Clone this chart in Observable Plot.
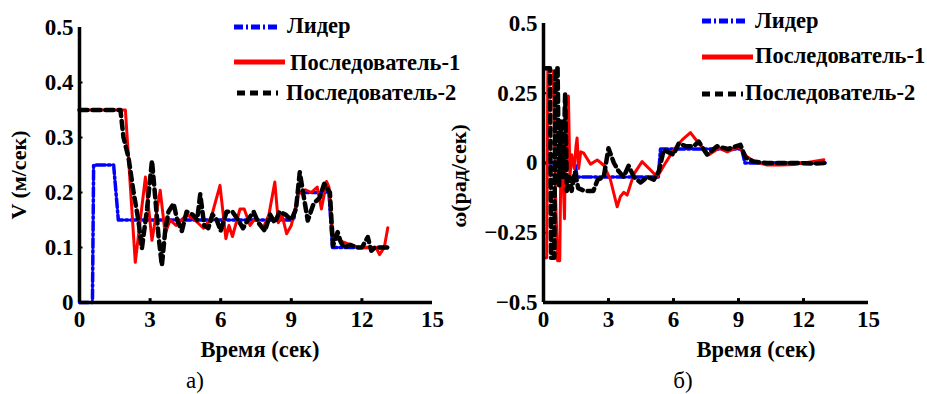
<!DOCTYPE html>
<html><head><meta charset="utf-8">
<script src="https://cdn.jsdelivr.net/npm/d3@7"></script>
<script src="https://cdn.jsdelivr.net/npm/@observablehq/plot@0.6"></script>
<style>
body{margin:0;background:#fff;}
#root{position:relative;width:927px;height:394px;overflow:hidden;font-family:'Liberation Serif',serif;}
#root svg, #root svg text{font-family:'Liberation Serif',serif !important;}
.panel{position:absolute;top:0;}
.panel svg{overflow:visible;}
.cap{position:absolute;top:370px;font-size:23px;line-height:22px;color:#000;font-family:'Liberation Serif',serif;transform:translateX(-50%);}
.legend{position:absolute;left:0;top:0;overflow:visible;}
</style></head>
<body><div id="root"></div>
<script>
// ---- data ----
const seriesNames = ["Лидер", "Последователь-1", "Последователь-2"];
const xTicks = [0, 3, 6, 9, 12, 15];
const vTicks = [0, 0.1, 0.2, 0.3, 0.4, 0.5];
const wTicks = [-0.5, -0.25, 0, 0.25, 0.5];

// panel a) linear speed V (м/сек)
const vLeaderT = [0, 0.55, 0.6, 1.45, 1.65, 9.1, 9.3, 10.6, 10.75, 13.1];
const vLeaderV = [0, 0, 0.25, 0.25, 0.15, 0.15, 0.2, 0.2, 0.1, 0.1];
const vF1T = [0, 1.95, 2.37, 2.8, 3.08, 3.43, 3.64, 3.85, 4.1, 4.56, 4.9, 5.27, 5.6, 5.97, 6.22, 6.35, 6.5, 6.82, 7.0, 7.25, 7.5, 7.8, 8.05, 8.3, 8.45, 8.6, 8.8, 9.0, 9.3, 9.6, 9.85, 10.1, 10.28, 10.5, 10.6, 10.77, 10.95, 11.2, 11.5, 11.9, 12.3, 12.6, 12.75, 12.95, 13.1];
const vF1V = [0.35, 0.35, 0.073, 0.228, 0.113, 0.204, 0.125, 0.15, 0.14, 0.16, 0.15, 0.135, 0.155, 0.213, 0.116, 0.14, 0.12, 0.17, 0.17, 0.14, 0.155, 0.135, 0.16, 0.219, 0.145, 0.16, 0.125, 0.14, 0.197, 0.205, 0.2, 0.21, 0.17, 0.22, 0.21, 0.12, 0.115, 0.11, 0.105, 0.1, 0.1, 0.1, 0.087, 0.1, 0.136];
const vF2T = [0, 1.74, 1.87, 2.08, 2.3, 2.5, 2.65, 2.87, 3.08, 3.2, 3.36, 3.5, 3.64, 3.78, 4.0, 4.15, 4.35, 4.55, 4.8, 5.0, 5.13, 5.3, 5.47, 5.65, 5.83, 6.0, 6.25, 6.5, 6.74, 6.95, 7.15, 7.4, 7.6, 7.88, 8.1, 8.3, 8.5, 8.75, 9.0, 9.2, 9.36, 9.5, 9.7, 9.95, 10.2, 10.4, 10.64, 10.77, 10.97, 11.1, 11.25, 11.5, 11.8, 12.0, 12.25, 12.4, 12.55, 12.75, 13.1];
const vF2V = [0.35, 0.35, 0.3, 0.264, 0.2, 0.15, 0.098, 0.17, 0.258, 0.2, 0.12, 0.067, 0.13, 0.165, 0.18, 0.15, 0.13, 0.165, 0.16, 0.15, 0.197, 0.14, 0.135, 0.16, 0.15, 0.13, 0.165, 0.165, 0.15, 0.135, 0.15, 0.165, 0.145, 0.13, 0.16, 0.145, 0.165, 0.16, 0.15, 0.17, 0.237, 0.2, 0.149, 0.18, 0.19, 0.216, 0.2, 0.103, 0.128, 0.11, 0.1, 0.105, 0.1, 0.1, 0.119, 0.094, 0.1, 0.1, 0.1];

// panel б) angular speed ω (рад/сек)
const wLeaderT = [0, 1.45, 1.55, 5.3, 5.4, 9.15, 9.3, 13];
const wLeaderW = [0, 0, -0.05, -0.05, 0.05, 0.05, 0, 0];
const wF1T = [0, 0.15, 0.2, 0.45, 0.55, 0.65, 0.75, 0.82, 0.9, 0.97, 1.02, 1.08, 1.15, 1.22, 1.3, 1.42, 1.5, 1.55, 1.62, 1.72, 1.86, 2.17, 2.48, 2.78, 3.09, 3.4, 3.55, 3.71, 3.86, 4.17, 4.55, 4.94, 5.25, 5.55, 6.01, 6.4, 6.78, 7.09, 7.63, 8.09, 8.48, 9.01, 9.4, 9.78, 10.32, 10.94, 11.55, 12.32, 12.94];
const wF1W = [-0.34, -0.34, 0.33, 0.33, -0.1, -0.35, -0.35, 0.12, -0.05, -0.2, 0.1, -0.02, 0.24, -0.05, 0.03, -0.02, 0.06, 0.09, -0.02, 0.04, 0.035, -0.004, 0.011, -0.008, -0.06, -0.157, -0.12, -0.105, -0.115, -0.04, 0.005, -0.025, -0.05, -0.01, 0.047, 0.083, 0.109, 0.078, 0.03, 0.053, 0.04, 0.058, 0.022, 0.003, -0.007, -0.007, -0.005, 0.004, 0.012];
const wF2T = [0.05, 0.3, 0.35, 0.5, 0.55, 0.65, 0.72, 0.8, 0.9, 1.0, 1.08, 1.2, 1.3, 1.45, 1.6, 1.9, 2.3, 2.5, 2.78, 3.0, 3.25, 3.47, 3.7, 3.93, 4.17, 4.48, 4.8, 5.09, 5.32, 5.55, 6.0, 6.24, 6.6, 6.94, 7.16, 7.55, 8.01, 8.5, 9.09, 9.32, 9.7, 10.3, 11.0, 11.7, 12.47, 13.0];
const wF2W = [0.34, 0.34, -0.34, -0.34, 0.34, 0.34, -0.08, 0.15, -0.05, 0.25, -0.1, -0.05, -0.1, -0.03, -0.09, -0.1, -0.1, -0.06, -0.05, 0.053, 0.0, -0.03, -0.05, -0.01, -0.05, -0.07, -0.05, -0.06, -0.03, 0.047, 0.03, 0.07, 0.06, 0.06, 0.077, 0.03, 0.06, 0.05, 0.065, 0.02, 0.005, 0.0, 0.0, 0.0, -0.002, 0.0];

// ---- styles ----
const styles = [
  {stroke: "#0000ff", strokeWidth: 3.5, strokeDasharray: "9,3,2,3"},
  {stroke: "#ff0000", strokeWidth: 3},
  {stroke: "#000000", strokeWidth: 4.5, strokeDasharray: "8,5"}
];
const zip = (t, v) => t.map((d, i) => ({t: d, v: v[i]}));
const fmt = d => d < 0 ? "\u2212" + Math.abs(d) : String(d);
const root = document.getElementById("root");
const FONT = "Liberation Serif, serif";

function makePanel(o) {
  const [y0, y1] = o.yDomain;
  const plot = Plot.plot({
    width: o.width, height: 365,
    marginLeft: o.marginLeft, marginRight: o.marginRight, marginTop: o.marginTop, marginBottom: 63,
    x: {domain: [0, 15]},
    y: {domain: o.yDomain},
    style: {fontFamily: FONT, fontWeight: "bold", fontSize: "23px", color: "#000", background: "transparent", overflow: "visible"},
    marks: [
      Plot.axisX({ticks: xTicks, tickSize: 0, tickPadding: 8, label: null, tickFormat: fmt, fontWeight: "bold"}),
      Plot.axisY({ticks: o.yTicks, tickSize: 0, tickPadding: 6, label: null, tickFormat: fmt, fontWeight: "bold"}),
      Plot.ruleX(xTicks.filter(d => d > 0 && d < 15), {y1: y0, y2: y0 + o.tickY, stroke: "#000", strokeWidth: 3}),
      Plot.ruleY(o.yTicks.filter(d => d > y0 && d < y1), {x1: 0, x2: 0.15, stroke: "#000", strokeWidth: 2}),
      ...o.series.map((s, i) => Plot.line(s, {x: "t", y: "v", ...styles[i]})),
      Plot.ruleY([y0], {stroke: "#000", strokeWidth: 3.5}),
      Plot.ruleX([0], {stroke: "#000", strokeWidth: 3.5}),
      Plot.text([o.yLabel], {text: d => d, frameAnchor: "left", textAnchor: "middle", lineAnchor: "middle", dx: o.yLabelDx, dy: o.yLabelDy, rotate: -90, fontSize: 22, fontWeight: "bold"}),
      Plot.text(["Время (сек)"], {text: d => d, frameAnchor: "bottom", textAnchor: "middle", lineAnchor: "middle", dx: o.xLabelDx, dy: 47, fontSize: 22.5, fontWeight: "bold"})
    ]
  });
  const div = document.createElement("div");
  div.className = "panel";
  div.style.left = o.left + "px";
  div.appendChild(plot);
  root.appendChild(div);
}

makePanel({
  left: 0, width: 450, marginLeft: 79, marginRight: 18, marginTop: 27,
  yDomain: [0, 0.5], yTicks: vTicks, tickY: 0.007,
  yLabel: "V (м/сек)", yLabelDx: -61, yLabelDy: 10, xLabelDx: 4,
  series: [zip(vLeaderT, vLeaderV), zip(vF1T, vF1V), zip(vF2T, vF2V)]
});
makePanel({
  left: 440, width: 487, marginLeft: 103, marginRight: 59, marginTop: 23,
  yDomain: [-0.5, 0.5], yTicks: wTicks, tickY: 0.014,
  yLabel: "ω(рад/сек)", yLabelDx: -85, yLabelDy: 13, xLabelDx: 50,
  series: [zip(wLeaderT, wLeaderW), zip(wF1T, wF1W), zip(wF2T, wF2W)]
});

// ---- legends ----
const legendLayouts = [
  [{x1: 234, x2: 280, y: 27, tx: 287, ty: 33}, {x1: 234, x2: 285, y: 62, tx: 290, ty: 70}, {x1: 237, x2: 278, y: 93, tx: 286, ty: 100}],
  [{x1: 702, x2: 747, y: 21, tx: 755, ty: 28}, {x1: 702, x2: 753, y: 57, tx: 755, ty: 63}, {x1: 702, x2: 743, y: 94, tx: 745, ty: 100}]
];
const svg = d3.select(root).append("svg").attr("class", "legend").attr("width", 927).attr("height", 394);
legendLayouts.forEach(items => {
  items.forEach((it, i) => {
    const st = styles[i];
    svg.append("line").attr("x1", it.x1).attr("x2", it.x2).attr("y1", it.y).attr("y2", it.y)
      .attr("stroke", st.stroke).attr("stroke-width", 5)
      .attr("stroke-dasharray", st.strokeDasharray || null);
    svg.append("text").attr("x", it.tx).attr("y", it.ty).text(seriesNames[i])
      .attr("font-family", FONT).attr("font-weight", "bold").attr("font-size", 22.5);
  });
});

// ---- captions ----
[["а)", 195], ["б)", 683]].forEach(([t, x]) => {
  const c = document.createElement("div");
  c.className = "cap"; c.style.left = x + "px"; c.textContent = t;
  root.appendChild(c);
});
</script>
</body></html>
